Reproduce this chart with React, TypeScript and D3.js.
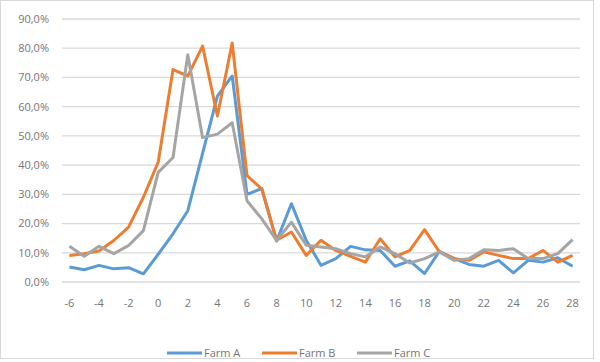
import * as d3 from 'd3'

const days = d3.range(-6, 29)
const farmA = [5.1, 4.2, 5.7, 4.5, 4.9, 2.8, 9.5, 16.5, 24.4, 44, 63.6, 70.5, 30, 32, 14, 26.8, 14.3, 5.7, 8, 12.2, 11, 10.8, 5.4, 7.2, 2.9, 10.5, 8, 6, 5.4, 7.4, 3.1, 7.4, 6.8, 8.3, 5.4]
const farmB = [9.1, 9.7, 10.6, 14.2, 18.8, 29, 41, 72.7, 70.5, 80.7, 56.8, 81.8, 36.4, 31.8, 14.3, 17.1, 9.1, 14.3, 10.8, 8.8, 6.8, 14.8, 8.6, 10.8, 17.9, 10.3, 8, 7.4, 10.3, 9.1, 8, 8, 10.8, 6.8, 9.1]
const farmC = [12.2, 8.8, 12.2, 9.7, 12.5, 17.6, 37.5, 42.6, 77.8, 49.4, 50.6, 54.5, 27.8, 21.6, 14.2, 20.5, 12.6, 12, 11.4, 9.7, 8.6, 12, 9.7, 6.5, 8, 10.3, 7.4, 8, 11, 10.8, 11.4, 8, 8, 9.7, 14.5]
const yTicks = [0, 10, 20, 30, 40, 50, 60, 70, 80, 90]
const xTicks = d3.range(-6, 29, 2)

const series = [
  {name: 'Farm A', values: farmA, color: '#5b9bd5'},
  {name: 'Farm B', values: farmB, color: '#ed7d31'},
  {name: 'Farm C', values: farmC, color: '#a5a5a5'},
]

export default function App() {
  const width = 600
  const height = 362
  const plot = {left: 62, right: 580, top: 19, bottom: 282}
  const step = (plot.right - plot.left) / days.length
  const x = d3.scaleLinear().domain([-6, 28]).range([plot.left + step / 2, plot.right - step / 2])
  const y = d3.scaleLinear().domain([0, 90]).range([plot.bottom, plot.top])
  const line = (vals: number[]) =>
    d3.line<number>()
      .x((_, i) => x(days[i]))
      .y(d => y(d))(vals) || ''
  const font = '"Open Sans", sans-serif'
  const fmt = (v: number) => v.toFixed(1).replace('.', ',') + '%'
  const legendX = [167, 262, 357]

  return (
    <svg width={width} height={height} style={{position: 'fixed', left: 0, top: 0, background: '#fff'}}>
      <rect x={0.5} y={0.5} width={593} height={358} fill="#fff" stroke="#d9d9d9" />
      {yTicks.map(t => (
        <g key={t}>
          <line x1={plot.left} x2={plot.right} y1={y(t)} y2={y(t)} stroke="#d9d9d9" strokeWidth={1.3} />
          <text x={49} y={y(t)} dy="0.35em" textAnchor="end" fontFamily={font} fontSize={11} fill="#767676">
            {fmt(t)}
          </text>
        </g>
      ))}
      {xTicks.map(t => (
        <text key={t} x={x(t)} y={303} dy="0.35em" textAnchor="middle" fontFamily={font} fontSize={11} fill="#767676">
          {t}
        </text>
      ))}
      {series.map(s => (
        <path key={s.name} d={line(s.values)} fill="none" stroke={s.color} strokeWidth={3} strokeLinejoin="round" />
      ))}
      {series.map((s, i) => (
        <g key={s.name} transform={`translate(${legendX[i]},353)`}>
          <line x1={0} x2={35} y1={0} y2={0} stroke={s.color} strokeWidth={3} />
          <text x={37} y={0} dy="0.35em" fontFamily={font} fontSize={11} fill="#767676">
            {s.name}
          </text>
        </g>
      ))}
    </svg>
  )
}
